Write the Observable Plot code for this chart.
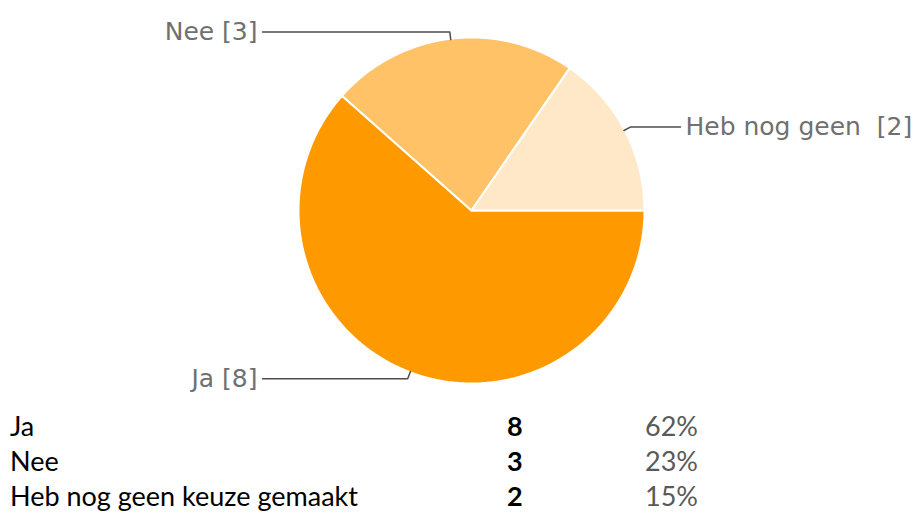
<!DOCTYPE html>
<html>
<head>
<meta charset="utf-8">
<script src="https://cdn.jsdelivr.net/npm/d3@7"></script>
<script src="https://cdn.jsdelivr.net/npm/@observablehq/plot@0.6"></script>
<style>
  body { margin: 0; background: #fff; width: 921px; height: 514px; overflow: hidden; position: relative; }
  #chart { position: absolute; left: 0; top: 0; }
  #table { position: absolute; left: 0; top: 408px; width: 921px; font-family: Lato, "Open Sans", sans-serif; font-size: 27px; }
  .row { position: relative; height: 35px; line-height: 35px; }
  .row span { position: absolute; top: 0; white-space: nowrap; }
  .c1 { left: 10px; color: #000; }
  .c2 { left: 507px; color: #000; font-weight: bold; }
  .c3 { left: 645px; color: #595959; }
</style>
</head>
<body>
<div id="chart"></div>
<div id="table"></div>
<script>
const categories = ["Ja", "Nee", "Heb nog geen keuze gemaakt"];
const pieLabels = ["Ja [8]", "Nee [3]", "Heb nog geen\u00a0 [2]"];
const counts = [8, 3, 2];
const percents = ["62%", "23%", "15%"];
const colors = ["#ff9900", "#ffc266", "#ffe8c8"];

// pie geometry (unit circle) from the data
const arcs = d3.pie().sort(null).startAngle(Math.PI / 2).endAngle(Math.PI / 2 + 2 * Math.PI)(counts);
const slicePts = [];
arcs.forEach((a, i) => {
  const k = categories[i];
  slicePts.push({x: 0, y: 0, k});
  const n = 120;
  for (let t = 0; t <= n; t++) {
    const ang = a.startAngle + (a.endAngle - a.startAngle) * t / n;
    slicePts.push({x: Math.sin(ang), y: Math.cos(ang), k});
  }
});

const leaderPts = [];
const labelPts = [];
arcs.forEach((a, i) => {
  const mid = (a.startAngle + a.endAngle) / 2;
  const sx = Math.sin(mid), sy = Math.cos(mid);
  const side = sx < 0 ? -1 : 1;
  const k = categories[i];
  leaderPts.push({x: sx * 0.995, y: sy * 0.995, k});
  leaderPts.push({x: sx * 1.04, y: sy * 1.04, k});
  leaderPts.push({x: side * 1.208, y: sy * 1.04, k});
  labelPts.push({x: side * 1.208, y: sy * 1.04, text: pieLabels[i], side});
});

const R = 173;
const plot = Plot.plot({
  width: 921,
  height: 400,
  margin: 0,
  x: {domain: [-471 / R, 450 / R], axis: null},
  y: {domain: [-190 / R, 210 / R], axis: null},
  color: {domain: categories, range: colors},
  style: {fontFamily: "'DejaVu Sans', sans-serif", background: "#fff"},
  marks: [
    Plot.line(slicePts, {x: "x", y: "y", z: "k", fill: "k", stroke: "#fff", strokeWidth: 2, curve: "linear-closed"}),
    Plot.line(leaderPts, {x: "x", y: "y", z: "k", stroke: "#4d4d4d", strokeWidth: 1.5}),
    Plot.text(labelPts.filter(d => d.side < 0), {x: "x", y: "y", text: "text", textAnchor: "end", dx: -5, fontSize: 25, fill: "#707070"}),
    Plot.text(labelPts.filter(d => d.side > 0), {x: "x", y: "y", text: "text", textAnchor: "start", dx: 5, fontSize: 25, fill: "#707070"})
  ]
});
document.getElementById("chart").appendChild(plot);

const table = document.getElementById("table");
categories.forEach((c, i) => {
  const row = document.createElement("div");
  row.className = "row";
  row.innerHTML = `<span class="c1"></span><span class="c2"></span><span class="c3"></span>`;
  row.querySelector(".c1").textContent = c;
  row.querySelector(".c2").textContent = counts[i];
  row.querySelector(".c3").textContent = percents[i];
  table.appendChild(row);
});
</script>
</body>
</html>
